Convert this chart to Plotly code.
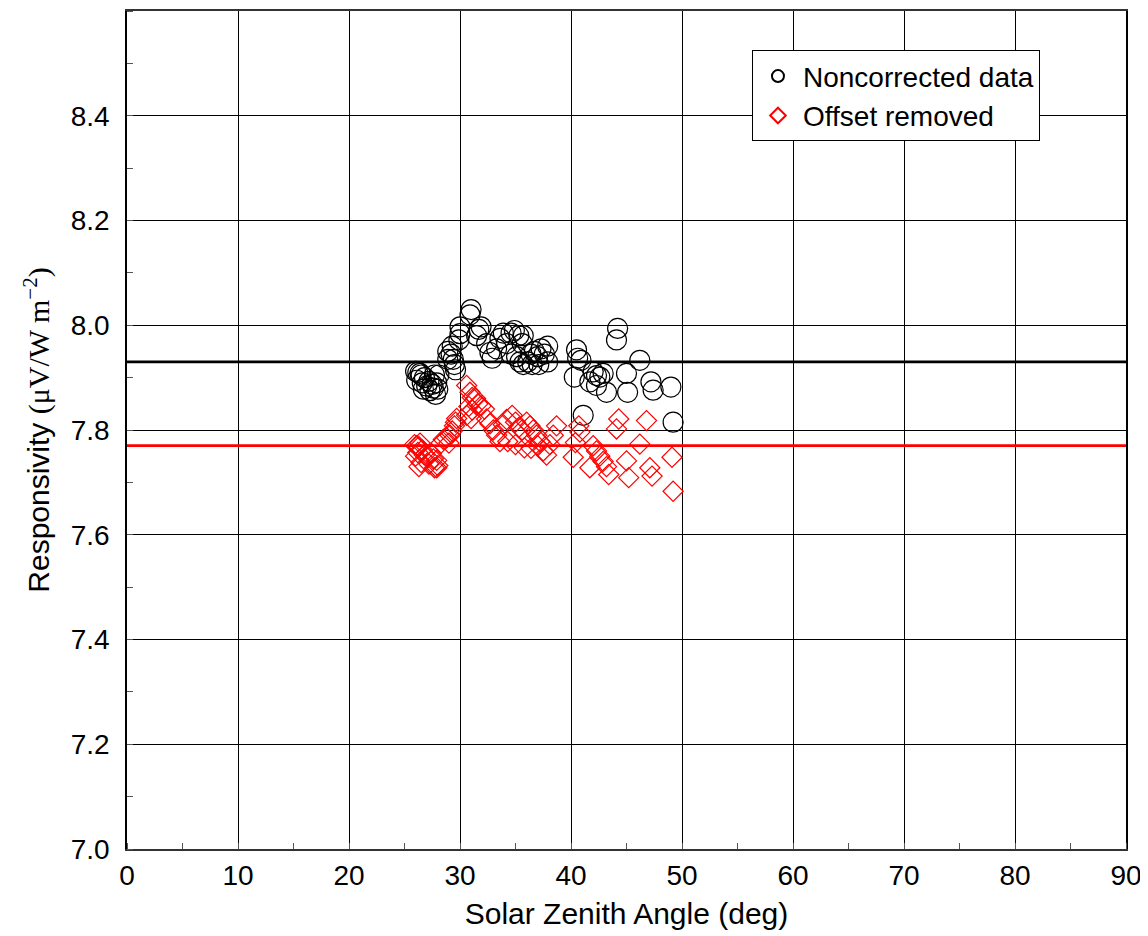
import plotly.graph_objects as go

# Noncorrected data (solar zenith angle in deg, responsivity)
nc_angle = [26.0, 26.2, 26.4, 26.5, 26.1, 26.8, 27.2, 27.5, 27.6, 27.3, 26.7, 27.9, 28.0, 27.8, 27.0, 26.6, 27.7, 28.1,
            28.9, 29.2, 29.4, 29.5, 29.6, 29.3, 28.9, 30.0, 30.0, 29.9, 31.0, 30.9, 31.9, 31.7, 31.5,
            32.4, 32.7, 32.9, 33.3, 33.6, 33.9, 34.2, 34.6, 34.9, 35.3, 35.6, 35.7, 34.6, 35.1, 35.4,
            35.7, 36.1, 36.4, 36.7, 37.0, 37.3, 37.6, 37.9, 36.5, 37.1, 37.9,
            40.5, 40.6, 40.3, 40.9, 42.0, 42.3, 42.6, 42.9, 41.7, 42.3, 43.2, 44.2, 44.1, 46.2,
            45.0, 45.1, 47.2, 47.4, 49.0, 41.1, 49.2]
nc_resp = [7.912, 7.910, 7.908, 7.905, 7.895, 7.900, 7.893, 7.887, 7.880, 7.875, 7.878, 7.890, 7.878, 7.868, 7.884, 7.890, 7.905, 7.905,
           7.950, 7.945, 7.935, 7.925, 7.915, 7.960, 7.935, 7.997, 7.984, 7.972, 8.030, 8.020, 7.997, 7.992, 7.980,
           7.965, 7.948, 7.937, 7.955, 7.975, 7.985, 7.965, 7.985, 7.990, 7.980, 7.965, 7.980, 7.945, 7.940, 7.930,
           7.925, 7.930, 7.945, 7.950, 7.940, 7.955, 7.945, 7.930, 7.925, 7.925, 7.960,
           7.953, 7.937, 7.901, 7.933, 7.911, 7.904, 7.901, 7.908, 7.892, 7.885, 7.872, 7.994, 7.972, 7.933,
           7.908, 7.872, 7.892, 7.876, 7.882, 7.828, 7.815]

# Offset removed data
or_angle = [25.9, 26.1, 26.3, 26.2, 26.6, 26.8, 27.1, 27.4, 27.6, 27.9, 28.0, 27.7, 26.5, 26.0, 26.4, 27.2, 26.3, 27.9,
            28.5, 28.8, 29.1, 29.3, 29.0, 28.3, 29.6, 29.7, 29.5,
            30.6, 30.9, 31.1, 31.4, 31.6, 31.9, 32.2, 30.8, 31.1, 30.6, 31.0,
            32.4, 32.7, 33.0, 33.3, 33.6, 33.9, 34.2, 34.7, 35.0, 35.3, 35.6, 36.0, 36.3, 36.6, 36.9,
            37.2, 37.5, 37.8, 38.1, 38.4, 38.7, 35.0, 34.3, 35.8, 36.4, 37.0,
            40.7, 40.8, 40.4, 40.2, 42.0, 42.3, 42.6, 42.9, 43.2, 41.7, 43.4,
            44.3, 44.1, 46.8, 46.2, 45.0, 45.2, 47.1, 47.3, 49.1, 49.2]
or_resp = [7.772, 7.770, 7.768, 7.757, 7.762, 7.752, 7.748, 7.755, 7.745, 7.742, 7.732, 7.728, 7.738, 7.750, 7.775, 7.735, 7.730, 7.728,
           7.782, 7.785, 7.790, 7.798, 7.775, 7.775, 7.815, 7.822, 7.808,
           7.885, 7.872, 7.862, 7.860, 7.850, 7.846, 7.840, 7.845, 7.838, 7.828, 7.822,
           7.821, 7.812, 7.800, 7.790, 7.778, 7.810, 7.820, 7.828, 7.815, 7.805, 7.800, 7.815, 7.808, 7.800, 7.790,
           7.778, 7.760, 7.752, 7.772, 7.790, 7.808, 7.772, 7.778, 7.766, 7.765, 7.770,
           7.808, 7.796, 7.776, 7.748, 7.770, 7.760, 7.750, 7.740, 7.730, 7.728, 7.715,
           7.821, 7.802, 7.818, 7.773, 7.741, 7.709, 7.728, 7.712, 7.748, 7.683]

mean_noncorrected = 7.93
mean_offset_removed = 7.77
x_span = [0, 90]

x_ticks = [0, 10, 20, 30, 40, 50, 60, 70, 80, 90]
y_ticks = [7.0, 7.2, 7.4, 7.6, 7.8, 8.0, 8.2, 8.4]
y_tick_text = ["7.0", "7.2", "7.4", "7.6", "7.8", "8.0", "8.2", "8.4"]

FONT = "Arial, Liberation Sans, sans-serif"
FS = 28
TS = 30

fig = go.Figure()
fig.add_trace(go.Scatter(x=x_span, y=[mean_noncorrected] * 2, mode="lines",
                         line=dict(color="black", width=2.8), showlegend=False, hoverinfo="skip"))
fig.add_trace(go.Scatter(x=x_span, y=[mean_offset_removed] * 2, mode="lines",
                         line=dict(color="red", width=2.8), showlegend=False, hoverinfo="skip"))
fig.add_trace(go.Scatter(x=nc_angle, y=nc_resp, mode="markers", name="Noncorrected data",
                         marker=dict(symbol="circle-open", size=20, color="black", line=dict(width=1.2))))
fig.add_trace(go.Scatter(x=or_angle, y=or_resp, mode="markers", name="Offset removed",
                         marker=dict(symbol="diamond-open", size=15.5, color="red", line=dict(width=1.2))))

fig.update_layout(
    width=1140, height=928,
    margin=dict(l=119, r=22, t=1, b=87),
    paper_bgcolor="white", plot_bgcolor="white",
    font=dict(family=FONT, size=FS, color="black"),
    legend=dict(x=0.6256, y=0.953, xanchor="left", yanchor="top",
                bordercolor="black", borderwidth=1, bgcolor="white",
                font=dict(size=FS), itemsizing="constant", itemwidth=40, tracegroupgap=0),
)
fig.update_xaxes(
    range=[0, 90], tickvals=x_ticks, ticktext=[str(v) for v in x_ticks],
    showgrid=True, gridcolor="black", gridwidth=1,
    showline=True, linecolor="#333", linewidth=2, mirror=True,
    ticks="", zeroline=False,
    minor=dict(dtick=5, tick0=0, ticks="inside", ticklen=6, tickcolor="#555", showgrid=False),
    title=dict(text="Solar Zenith Angle (deg)", font=dict(size=TS), standoff=13),
    tickfont=dict(size=FS),
)
fig.update_yaxes(
    range=[7.0, 8.6], tickvals=y_ticks, ticktext=y_tick_text,
    showgrid=True, gridcolor="black", gridwidth=1,
    showline=True, linecolor="black", linewidth=1.5, mirror=True,
    ticks="", zeroline=False, ticklabelstandoff=10,
    minor=dict(dtick=0.1, tick0=7.0, ticks="inside", ticklen=6, tickcolor="#555", showgrid=False),
    title=dict(text="Responsivity <span style='font-family:Liberation Serif, Times New Roman, serif'>(μV/W m<sup>−2</sup>)</span>",
               font=dict(size=TS), standoff=12),
    tickfont=dict(size=FS),
)

fig.write_html("out.html")
